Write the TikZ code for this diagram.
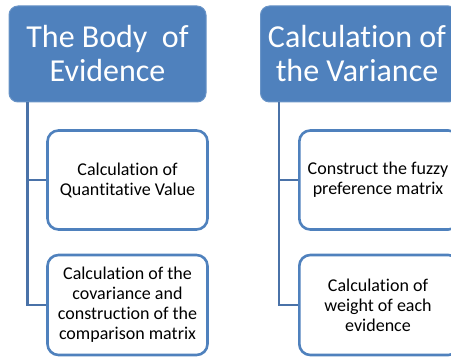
\documentclass[tikz,border=0pt]{standalone}
\usepackage{fontspec}
\setmainfont{Carlito}[RawFeature=-liga]
\definecolor{hblue}{HTML}{4F81BD}
\definecolor{lblue}{HTML}{4A72A8}
\begin{document}
\begin{tikzpicture}[x=1pt,y=-1pt,
  head/.style={draw=hblue!85!white,line width=1pt,fill=hblue,rounded corners=9pt,text=white,
     font=\fontsize{32}{34}\selectfont,align=center,inner sep=0pt},
  child/.style={draw=hblue,line width=2.6pt,fill=white,rounded corners=11pt,text=black,
     font=\fontsize{18}{20}\selectfont,align=center,inner sep=0pt},
  conn/.style={draw=lblue,line width=2.4pt}]
\useasboundingbox (0,0) rectangle (451,358);
% left column
\node[head,minimum width=197pt,minimum height=96pt] (h1) at (107.5,54) {The Body\ \ of\\Evidence};
\node[child,minimum width=160pt,minimum height=99pt] (c1) at (127.5,180) {Calculation of\\Quantitative Value};
\node[child,minimum width=160pt,minimum height=100pt] (c2) at (127.5,305) {Calculation of the\\covariance and\\construction of the\\comparison matrix};
\coordinate (v1) at (27.5,102);
\coordinate (v1a) at (27.5,180);
\coordinate (v1b) at (27.5,305);
\draw[conn] (v1) -- (v1b) -- (c2.west);
\draw[conn] (v1a) -- (c1.west);
% right column
\node[head,minimum width=197pt,minimum height=96pt,anchor=west] (h2) at (260,54) {};
\node[text=white,font=\fontsize{32}{34}\selectfont,align=center,inner sep=0pt] (h2t) at (357,54) {Calculation of\\the Variance};
\node[child,minimum width=160pt,minimum height=99pt,anchor=west] (c3) at (298,180) {};
\node[font=\fontsize{18}{20}\selectfont,align=center,inner sep=0pt] (c3t) at (378,180) {Construct the fuzzy\\preference matrix};
\node[child,minimum width=160pt,minimum height=100pt,anchor=west] (c4) at (298,305) {};
\node[font=\fontsize{18}{20}\selectfont,align=center,inner sep=0pt] (c4t) at (378,305) {Calculation of\\weight of each\\evidence};
\coordinate (v2) at (279,102);
\coordinate (v2a) at (279,180);
\coordinate (v2b) at (279,305);
\draw[conn] (v2) -- (v2b) -- (c4.west);
\draw[conn] (v2a) -- (c3.west);
\end{tikzpicture}
\end{document}
